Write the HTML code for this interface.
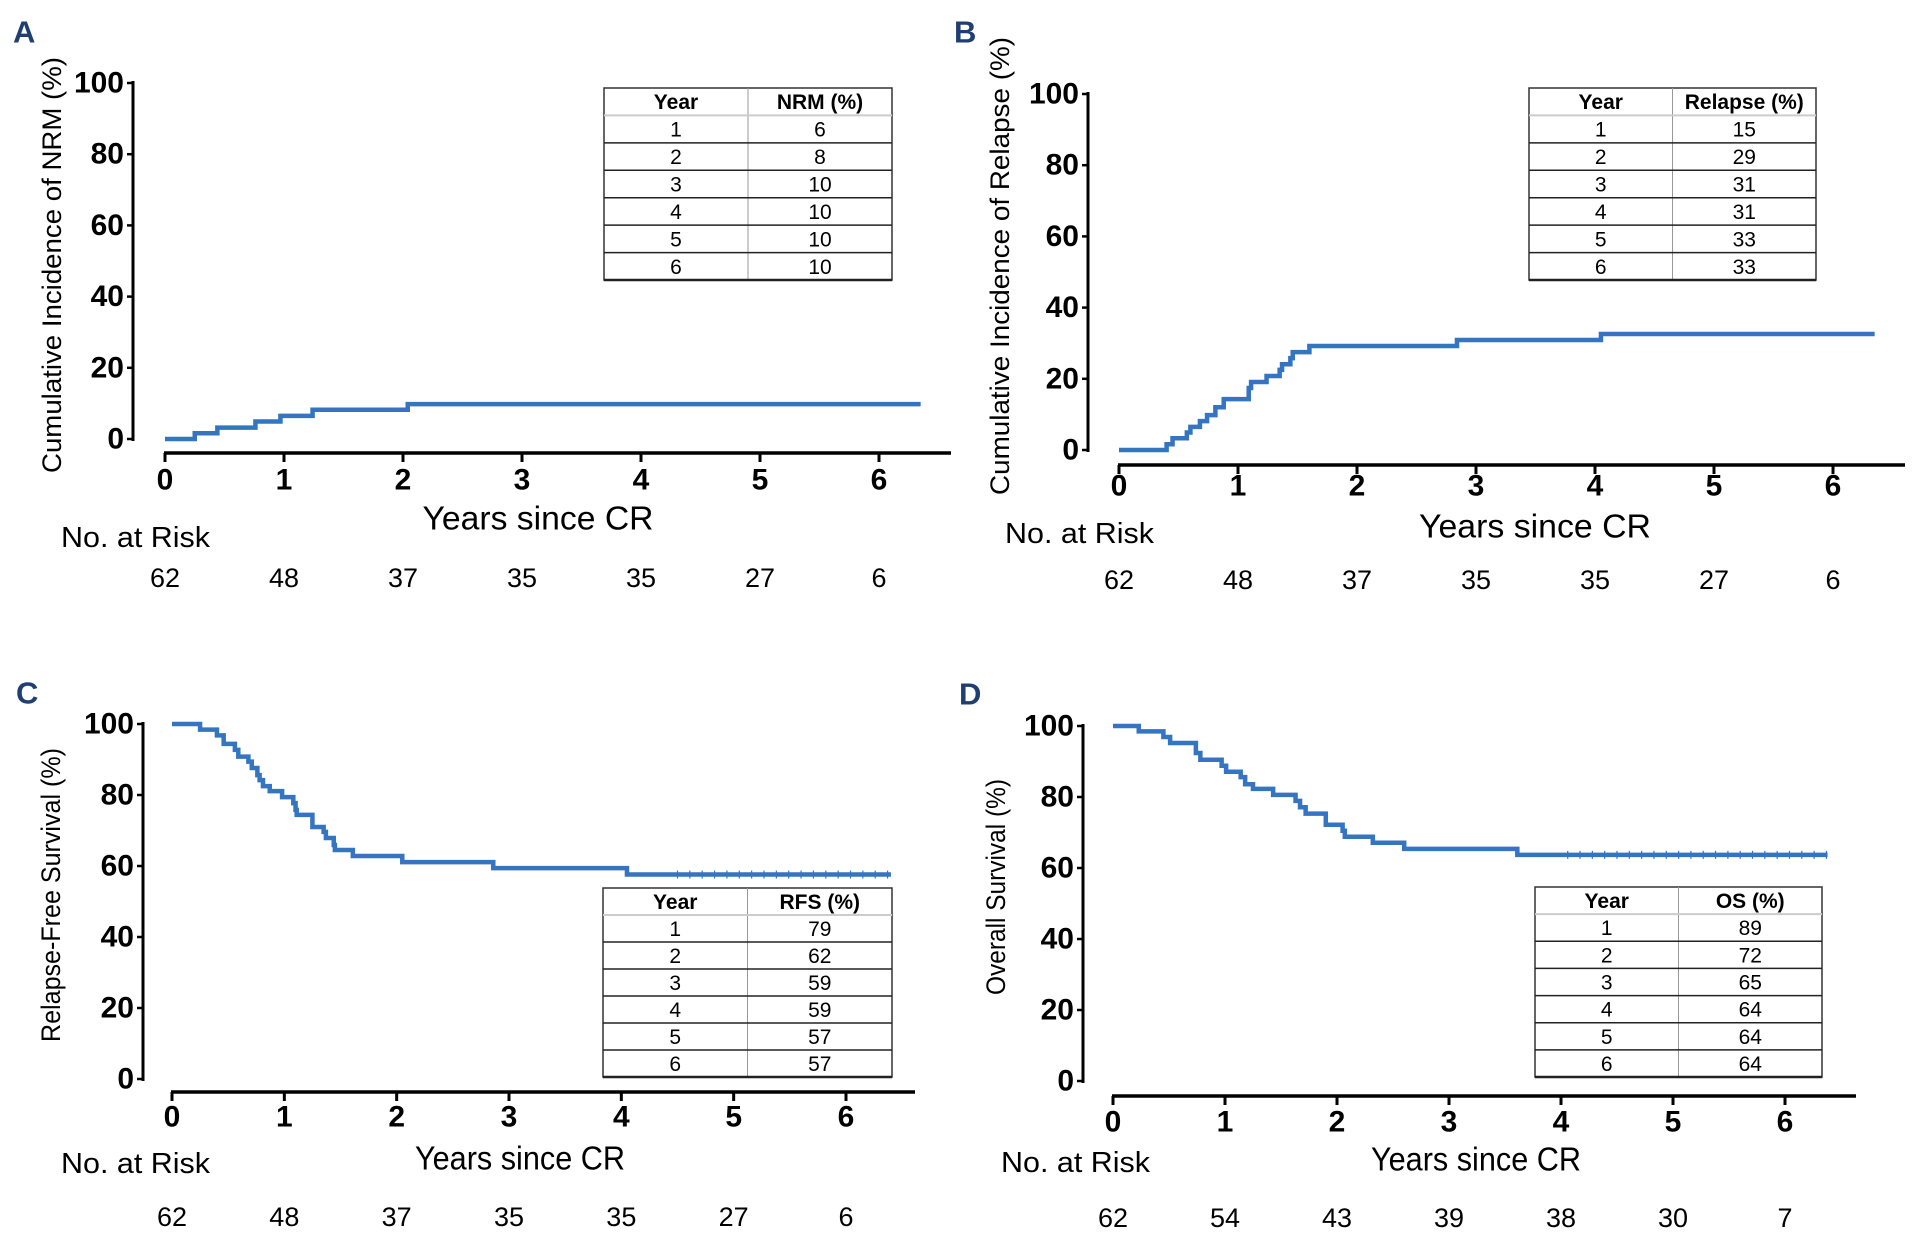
<!DOCTYPE html>
<html><head><meta charset="utf-8"><style>
html,body{margin:0;padding:0;background:#fff;}
svg{display:block;font-family:"Liberation Sans",Arial,sans-serif;}
</style></head><body>
<svg id="fig" width="1918" height="1253" viewBox="0 0 1918 1253" xmlns="http://www.w3.org/2000/svg"></svg>
<script>
// ---------- DATA ----------
const xTicks = [0,1,2,3,4,5,6];
const yTicks = [0,20,40,60,80,100];
const tableYears = [1,2,3,4,5,6];

const nrmTimes  = [0,0.25,0.44,0.76,0.97,1.24,2.04,6.35];
const nrmValues = [0,1.6,3.2,4.9,6.5,8.2,9.8,9.8];
const nrmTable  = [6,8,10,10,10,10];
const nrmRisk   = [62,48,37,35,35,27,6];

const relTimes  = [0,0.40,0.45,0.57,0.60,0.68,0.74,0.81,0.88,1.09,1.11,1.24,1.35,1.37,1.44,1.46,1.60,2.84,4.05,6.35];
const relValues = [0,1.6,3.3,4.9,6.5,8.1,9.8,12.0,14.3,17.4,19.1,20.8,22.5,24.1,25.8,27.5,29.2,30.9,32.6,32.6];
const relTable  = [15,29,31,31,33,33];
const relRisk   = [62,48,37,35,35,27,6];

const rfsTimes  = [0,0.25,0.40,0.46,0.56,0.59,0.68,0.71,0.76,0.78,0.81,0.87,0.98,1.08,1.10,1.11,1.25,1.35,1.37,1.44,1.45,1.61,2.05,2.86,4.05,6.40];
const rfsValues = [100,98.4,96.8,94.4,92.7,90.8,89.4,87.6,85.6,84.2,82.5,81.1,79.4,77.7,75.8,74.4,71.0,69.6,67.9,65.9,64.5,62.8,61.1,59.4,57.6,57.6];
const rfsTable  = [79,62,59,59,57,57];
const rfsRisk   = [62,48,37,35,35,27,6];

const osTimes   = [0,0.23,0.45,0.51,0.74,0.78,0.97,1.01,1.14,1.18,1.25,1.43,1.63,1.67,1.72,1.90,2.05,2.07,2.32,2.60,3.61,6.38];
const osValues  = [100,98.5,96.9,95.2,92.4,90.5,88.8,87.1,85.6,83.6,82.3,80.6,78.9,77.1,75.3,72.2,70.5,68.8,67.1,65.4,63.7,63.7];
const osTable   = [89,72,65,64,64,64];
const osRisk    = [62,54,43,39,38,30,7];

// ---------- LAYOUT ----------
const NS="http://www.w3.org/2000/svg";
const svg=document.getElementById('fig');
function mk(tag,attrs,parent){const e=document.createElementNS(NS,tag);for(const k in attrs)e.setAttribute(k,attrs[k]);(parent||svg).appendChild(e);return e;}

const panels=[
 {id:'a',letter:'A',lx:13,ly:32,yaxX:133,y100:83,y0:439,xaxY:453,x0:165,x6:879,xEnd:951,
  ylab:'Cumulative Incidence of NRM (%)',ylabX:52,ylabY:265,ylabLen:416,
  tab:[604,88,892,280],col2:'NRM (%)',xtY:480,xtitleX:538,xtitleY:518,xtitleLen:231,
  riskLX:61,riskLY:538,riskY:578,times:nrmTimes,vals:nrmValues,table:nrmTable,risk:nrmRisk,censor:false},
 {id:'b',letter:'B',lx:954,ly:32,yaxX:1088,y100:94,y0:450,xaxY:465,x0:1119,x6:1833,xEnd:1905,
  ylab:'Cumulative Incidence of Relapse (%)',ylabX:1000,ylabY:266,ylabLen:458,
  tab:[1529,88,1816,280],col2:'Relapse (%)',xtY:486,xtitleX:1535,xtitleY:526,xtitleLen:232,
  riskLX:1005,riskLY:534,riskY:580,times:relTimes,vals:relValues,table:relTable,risk:relRisk,censor:false},
 {id:'c',letter:'C',lx:16,ly:693,yaxX:143,y100:724,y0:1079,xaxY:1092,x0:172,x6:846,xEnd:915,
  ylab:'Relapse-Free Survival (%)',ylabX:51,ylabY:895,ylabLen:294,
  tab:[603,888,892,1077],col2:'RFS (%)',xtY:1117,xtitleX:520,xtitleY:1158,xtitleLen:210,
  riskLX:61,riskLY:1164,riskY:1217,times:rfsTimes,vals:rfsValues,table:rfsTable,risk:rfsRisk,censor:true},
 {id:'d',letter:'D',lx:959,ly:694,yaxX:1083,y100:726,y0:1081,xaxY:1096,x0:1113,x6:1785,xEnd:1856,
  ylab:'Overall Survival (%)',ylabX:996,ylabY:887,ylabLen:216,
  tab:[1535,887,1822,1077],col2:'OS (%)',xtY:1122,xtitleX:1476,xtitleY:1159,xtitleLen:210,
  riskLX:1001,riskLY:1163,riskY:1218,times:osTimes,vals:osValues,table:osTable,risk:osRisk,censor:true}
];

panels.forEach(p=>{
  const g=mk('g',{});
  
  
  const X=t=>p.x0+(p.x6-p.x0)*t/6;
  const Y=v=>p.y0+(p.y100-p.y0)*v/100;

  const L=mk('text',{x:p.lx,y:p.ly,'font-size':31,'font-weight':'bold',fill:'#1f3f73','dominant-baseline':'central'},g);
  L.textContent=p.letter;
  
  

  // y axis
  const ya=mk('line',{x1:p.yaxX,y1:p.y100-2,x2:p.yaxX,y2:p.y0+2,stroke:'#000','stroke-width':3},g);
  
  
  yTicks.forEach(v=>{
    mk('line',{x1:p.yaxX-6,y1:Y(v),x2:p.yaxX,y2:Y(v),stroke:'#000','stroke-width':2.5},g);
    const t=mk('text',{x:p.yaxX-9,y:Y(v),'font-size':30,'font-weight':'bold','text-anchor':'end','dominant-baseline':'central'},g);
    t.textContent=v;
    
    
  });
  // x axis
  const xa=mk('line',{x1:p.x0-1,y1:p.xaxY,x2:p.xEnd,y2:p.xaxY,stroke:'#000','stroke-width':3.5},g);
  
  
  xTicks.forEach(v=>{
    mk('line',{x1:X(v),y1:p.xaxY,x2:X(v),y2:p.xaxY+9,stroke:'#000','stroke-width':3},g);
    const t=mk('text',{x:X(v),y:p.xtY,'font-size':30,'font-weight':'bold','text-anchor':'middle','dominant-baseline':'central'},g);
    t.textContent=v;
    
    
  });
  // titles
  const yl=mk('text',{x:0,y:0,'font-size':27,'text-anchor':'middle','dominant-baseline':'central',transform:`translate(${p.ylabX},${p.ylabY}) rotate(-90)`,textLength:p.ylabLen,lengthAdjust:'spacingAndGlyphs'},g);
  yl.textContent=p.ylab;
  
  
  const xt=mk('text',{x:p.xtitleX,y:p.xtitleY,'font-size':33,'text-anchor':'middle','dominant-baseline':'central',textLength:p.xtitleLen,lengthAdjust:'spacingAndGlyphs'},g);
  xt.textContent='Years since CR';
  
  
  const rl=mk('text',{x:p.riskLX,y:p.riskLY,'font-size':29,'dominant-baseline':'central',textLength:149,lengthAdjust:'spacingAndGlyphs'},g);
  rl.textContent='No. at Risk';
  
  
  p.risk.forEach((n,i)=>{
    const t=mk('text',{x:X(xTicks[i]),y:p.riskY,'font-size':27,'text-anchor':'middle','dominant-baseline':'central'},g);
    t.textContent=n;
    
    
  });

  // curve (step)
  let d='M'+X(p.times[0])+','+Y(p.vals[0]);
  for(let i=1;i<p.times.length;i++){d+=' H'+X(p.times[i])+' V'+Y(p.vals[i]);}
  const c=mk('path',{d:d,fill:'none',stroke:'#3474c0','stroke-width':4.5,'stroke-linejoin':'miter'},g);
  
  
  if(p.censor){
    const n=p.times.length;
    const a=p.times[n-2], b=p.times[n-1], v=p.vals[n-1];
    for(let t=a+0.45;t<b;t+=0.11){
      const m=mk('line',{x1:X(t),y1:Y(v)-4,x2:X(t),y2:Y(v)+4,stroke:'#3474c0','stroke-width':1.2},g);
      
      
    }
  }

  // table
  const [tx1,ty1,tx2,ty2]=p.tab;
  const tg=mk('g',{},g);
  
  
  const rh=(ty2-ty1)/7, cx=(tx1+tx2)/2;
  mk('rect',{x:tx1,y:ty1,width:tx2-tx1,height:ty2-ty1,fill:'#fff',stroke:'#333','stroke-width':1.5},tg);
  mk('line',{x1:cx,y1:ty1,x2:cx,y2:ty2,stroke:'#999','stroke-width':1},tg);
  for(let r=1;r<7;r++){
    mk('line',{x1:tx1,y1:ty1+r*rh,x2:tx2,y2:ty1+r*rh,stroke:r==1?'#ccc':'#222','stroke-width':r==1?2:1.5},tg);
  }
  mk('line',{x1:tx1,y1:ty2,x2:tx2,y2:ty2,stroke:'#222','stroke-width':2.5},tg);
  const hdr=[['Year',(tx1+cx)/2],[p.col2,(cx+tx2)/2]];
  hdr.forEach(h=>{const t=mk('text',{x:h[1],y:ty1+rh/2+1,'font-size':21,'font-weight':'bold','text-anchor':'middle','dominant-baseline':'central'},tg);t.textContent=h[0];
    
    });
  tableYears.forEach((yr,i)=>{
    const a=mk('text',{x:(tx1+cx)/2,y:ty1+rh*(i+1.5)+1,'font-size':21,'text-anchor':'middle','dominant-baseline':'central'},tg);
    a.textContent=yr;
    
    
    const b=mk('text',{x:(cx+tx2)/2,y:ty1+rh*(i+1.5)+1,'font-size':21,'text-anchor':'middle','dominant-baseline':'central'},tg);
    b.textContent=p.table[i];
    
    
  });
});
</script>
</body></html>
